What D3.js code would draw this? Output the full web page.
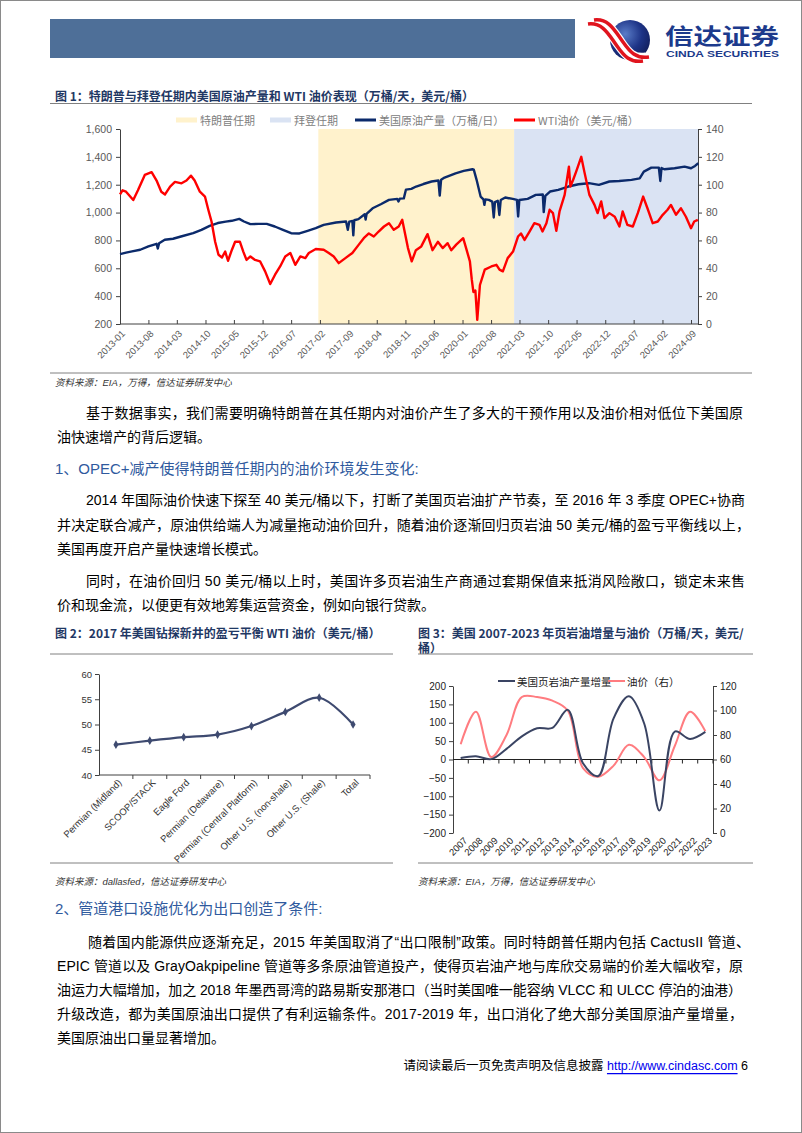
<!DOCTYPE html>
<html><head><meta charset="utf-8">
<script src="https://cdn.jsdelivr.net/npm/d3@7/dist/d3.min.js"></script>
<style>body{margin:0;background:#fff}svg{display:block}</style>
</head><body><svg id="page" width="802" height="1133"></svg>
<script>
// ================= DATA =================
// Chart 1: US crude production (万桶/日) and WTI (美元/桶)
const prodData = [["2013-01-01",702],["2013-02-15",712],["2013-04-01",721],["2013-06-01",733],["2013-08-01",757],["2013-10-01",776],["2013-10-10",742],["2013-10-20",780],["2013-12-01",805],["2014-02-01",812],["2014-04-01",828],["2014-07-01",852],["2014-09-01",876],["2014-11-01",905],["2015-01-01",925],["2015-03-01",935],["2015-04-15",941],["2015-06-10",955],["2015-07-15",936],["2015-09-01",917],["2015-11-01",919],["2016-01-01",919],["2016-03-01",900],["2016-05-01",876],["2016-07-01",852],["2016-09-01",850],["2016-11-01",869],["2017-01-01",888],["2017-03-01",912],["2017-06-01",929],["2017-08-15",936],["2017-08-28",876],["2017-09-08",935],["2017-10-01",940],["2017-10-08",836],["2017-10-15",945],["2017-11-15",953],["2018-01-01",988],["2018-01-08",950],["2018-01-15",990],["2018-03-01",1031],["2018-05-01",1060],["2018-07-01",1091],["2018-09-01",1098],["2018-09-10",1080],["2018-09-20",1100],["2018-10-20",1102],["2018-11-05",1165],["2018-12-15",1170],["2019-01-20",1187],["2019-03-15",1205],["2019-05-15",1223],["2019-07-05",1230],["2019-07-15",1122],["2019-07-25",1235],["2019-08-20",1251],["2019-11-10",1282],["2020-01-10",1299],["2020-03-15",1311],["2020-03-25",1308],["2020-04-15",1235],["2020-05-15",1115],["2020-06-05",1095],["2020-06-12",1055],["2020-06-20",1095],["2020-07-15",1091],["2020-08-10",1079],["2020-08-21",965],["2020-08-30",1075],["2020-09-20",1085],["2020-10-02",983],["2020-10-12",1090],["2020-11-15",1108],["2021-01-10",1098],["2021-02-10",1091],["2021-02-19",972],["2021-02-28",1090],["2021-05-01",1098],["2021-07-01",1127],["2021-08-22",1130],["2021-08-29",1003],["2021-09-10",1120],["2021-10-15",1151],["2021-12-15",1163],["2022-03-01",1187],["2022-05-15",1203],["2022-08-01",1211],["2022-10-15",1199],["2023-01-01",1223],["2023-03-15",1227],["2023-06-15",1235],["2023-08-15",1246],["2023-09-15",1294],["2023-11-10",1323],["2024-01-05",1323],["2024-01-16",1227],["2024-01-25",1320],["2024-02-15",1311],["2024-05-01",1318],["2024-07-15",1330],["2024-09-01",1318],["2024-10-01",1335],["2024-10-25",1354]];
const wtiData = [["2013-01-01",93],["2013-01-20",96],["2013-02-15",95],["2013-04-10",89],["2013-05-15",96],["2013-07-05",107],["2013-08-25",109],["2013-10-01",103],["2013-11-05",95],["2013-12-03",93],["2014-01-10",98.7],["2014-02-15",102],["2014-04-05",101],["2014-05-12",103],["2014-06-15",106.5],["2014-07-12",103],["2014-08-20",95],["2014-09-27",91.5],["2014-10-22",82],["2014-11-15",73.6],["2014-12-12",59],["2015-01-06",49.7],["2015-02-01",47.8],["2015-02-25",52],["2015-03-18",45.4],["2015-04-15",53],["2015-05-10",59],["2015-06-15",59],["2015-07-10",52],["2015-08-03",46],["2015-09-01",48.5],["2015-10-06",46],["2015-11-12",45],["2015-12-20",37.8],["2016-01-27",28.7],["2016-03-03",35.4],["2016-04-10",41.3],["2016-05-18",48.5],["2016-06-25",51],["2016-08-01",42.5],["2016-09-08",48.5],["2016-10-15",47.3],["2016-11-10",51],["2017-01-01",53.8],["2017-03-01",53.3],["2017-04-08",51],["2017-05-15",48.5],["2017-06-21",43.7],["2017-08-10",47.3],["2017-10-01",51],["2017-11-18",57],["2017-12-25",61.6],["2018-02-01",65],["2018-03-10",62.8],["2018-04-15",66.4],["2018-05-25",70],["2018-07-01",72.4],["2018-08-06",67.6],["2018-09-12",70],["2018-10-08",74.8],["2018-11-20",54.5],["2018-12-18",45],["2019-01-18",53],["2019-02-27",55.7],["2019-04-15",64.5],["2019-05-22",53],["2019-07-01",59],["2019-08-06",54.5],["2019-09-12",58],["2019-10-09",53],["2019-11-15",57],["2020-01-06",61.6],["2020-02-01",53],["2020-02-25",45],["2020-03-10",32],["2020-03-22",23],["2020-04-06",24],["2020-04-20",3],["2020-05-10",28],["2020-06-15",39],["2020-08-03",41.3],["2020-09-10",42.5],["2020-10-03",39],["2020-10-28",37.8],["2020-12-03",47.3],["2021-01-12",52],["2021-02-18",62.8],["2021-03-12",65],["2021-04-08",60.4],["2021-05-15",66.4],["2021-06-20",72.4],["2021-07-28",71.2],["2021-08-20",66.4],["2021-09-18",72.4],["2021-10-12",82],["2021-11-06",79.6],["2021-12-01",66.9],["2021-12-25",80.8],["2022-02-01",92.7],["2022-03-05",113],["2022-03-16",98.7],["2022-04-05",103.4],["2022-04-28",109.4],["2022-06-05",120],["2022-06-28",109.4],["2022-08-05",92.7],["2022-09-12",85.5],["2022-10-05",79.6],["2022-11-01",88],["2022-11-25",76],["2023-01-01",79.6],["2023-02-10",77],["2023-03-17",70],["2023-04-10",80.8],["2023-05-15",71.2],["2023-06-25",70],["2023-08-01",79.6],["2023-09-10",91.5],["2023-10-12",83.1],["2023-11-20",72.4],["2023-12-28",73.6],["2024-02-03",78.4],["2024-03-10",82],["2024-04-04",85.5],["2024-05-12",78.4],["2024-06-18",83.1],["2024-07-25",77],["2024-09-01",68.8],["2024-09-25",73.6],["2024-10-22",74.8]];
const trumpTerm = ["2017-01-20","2021-01-20"];
const bidenStart = "2021-01-20";
const c1LeftTicks = [200,400,600,800,1000,1200,1400,1600];
const c1RightTicks = [0,20,40,60,80,100,120,140];
const c1XTickLabels = ["2013-01","2013-08","2014-03","2014-10","2015-05","2015-12","2016-07","2017-02","2017-09","2018-04","2018-11","2019-06","2020-01","2020-08","2021-03","2021-10","2022-05","2022-12","2023-07","2024-02","2024-09"];
const c1Legend = ["特朗普任期","拜登任期","美国原油产量（万桶/日）","WTI油价（美元/桶）"];

// Chart 2: 2017 breakeven WTI
const breakevenCats = ["Permian (Midland)","SCOOP/STACK","Eagle Ford","Permian (Delaware)","Permian (Central Platform)","Other U.S. (non-shale)","Other U.S. (Shale)","Total"];
const breakevenVals = [46,46.8,47.5,48,49.7,52.5,55.3,50];
const c2Ticks = [40,45,50,55,60];

// Chart 3: shale increment & oil price
const shaleYears = ["2007","2008","2009","2010","2011","2012","2013","2014","2015","2016","2017","2018","2019","2020","2021","2022","2023"];
const shaleIncrement = [4,9,1,29,63,85,86,135,-10,-45,112,172,98,-139,76,56,75];
const oilPrice = [72.5,99,62,80,111,111,108,100,53,46,55,72,62,43,71,99,83];
const c3LeftTicks = [-200,-150,-100,-50,0,50,100,150,200];
const c3RightTicks = [0,20,40,60,80,100,120];
const c3Legend = ["美国页岩油产量增量","油价（右）"];

// Text
const c1Title = "图 1：特朗普与拜登任期内美国原油产量和 WTI 油价表现（万桶/天，美元/桶）";
const c2Title = "图 2：2017 年美国钻探新井的盈亏平衡 WTI 油价（美元/桶）";
const c3Title = ["图 3：美国 2007-2023 年页岩油增量与油价（万桶/天，美元/","桶）"];
const src1 = "资料来源：EIA，万得，信达证券研发中心";
const src2 = "资料来源：dallasfed，信达证券研发中心";
const src3 = "资料来源：EIA，万得，信达证券研发中心";
const para1 = ["基于数据事实，我们需要明确特朗普在其任期内对油价产生了多大的干预作用以及油价相对低位下美国原","油快速增产的背后逻辑。"];
const head1 = "1、OPEC+减产使得特朗普任期内的油价环境发生变化:";
const para2 = ["2014 年国际油价快速下探至 40 美元/桶以下，打断了美国页岩油扩产节奏，至 2016 年 3 季度 OPEC+协商","并决定联合减产，原油供给端人为减量拖动油价回升，随着油价逐渐回归页岩油  50 美元/桶的盈亏平衡线以上，","美国再度开启产量快速增长模式。"];
const para3 = ["同时，在油价回归  50 美元/桶以上时，美国许多页岩油生产商通过套期保值来抵消风险敞口，锁定未来售","价和现金流，以便更有效地筹集运营资金，例如向银行贷款。"];
const head2 = "2、管道港口设施优化为出口创造了条件:";
const para4 = ["随着国内能源供应逐渐充足，2015 年美国取消了“出口限制”政策。同时特朗普任期内包括 CactusII 管道、","EPIC 管道以及 GrayOakpipeline 管道等多条原油管道投产，使得页岩油产地与库欣交易端的价差大幅收窄，原","油运力大幅增加，加之 2018 年墨西哥湾的路易斯安那港口（当时美国唯一能容纳 VLCC 和 ULCC 停泊的油港）","升级改造，都为美国原油出口提供了有利运输条件。2017-2019 年，出口消化了绝大部分美国原油产量增量，","美国原油出口量显著增加。"];

// ================= DRAW =================
const FONT = "'Liberation Sans', Arial, 'Noto Sans CJK SC', sans-serif";
const svg = d3.select("#page").style("font-family", FONT);
const defs = svg.append("defs");
svg.append("rect").attr("x",0.5).attr("y",0.5).attr("width",801).attr("height",1132).attr("fill","#fff").attr("stroke","#8a8a8a");

// Header
svg.append("rect").attr("x",50).attr("y",19).attr("width",525).attr("height",39).attr("fill","#4E6F98");
const rg = defs.append("radialGradient").attr("id","lg").attr("cx","38%").attr("cy","35%").attr("r","70%");
rg.append("stop").attr("offset","0%").attr("stop-color","#5a7cc8");
rg.append("stop").attr("offset","60%").attr("stop-color","#1d3386");
rg.append("stop").attr("offset","100%").attr("stop-color","#121f5c");
svg.append("circle").attr("cx",630).attr("cy",40).attr("r",20).attr("fill","url(#lg)");
const sw = "M591,22 C606,20 612,33 620,44 C627,54 633,61 646,59";
svg.append("path").attr("d",sw).attr("fill","none").attr("stroke","#fff").attr("stroke-width",13);
svg.append("path").attr("d",sw).attr("fill","none").attr("stroke","#e0141e").attr("stroke-width",3.5).attr("transform","translate(-3,2)");
svg.append("path").attr("d",sw).attr("fill","none").attr("stroke","#e0141e").attr("stroke-width",3.5).attr("transform","translate(3,-2)");
svg.append("text").attr("x",665).attr("y",34).attr("dominant-baseline","central").attr("font-size",22).attr("font-weight","bold").attr("fill","#1c3a8c")
  .attr("font-family","'Noto Sans CJK SC', sans-serif").attr("textLength",114).attr("lengthAdjust","spacingAndGlyphs").text("信达证券");
svg.append("text").attr("x",666).attr("y",53.5).attr("dominant-baseline","central").attr("font-size",8.5).attr("font-weight","bold").attr("fill","#1c3a8c")
  .attr("textLength",113).attr("lengthAdjust","spacingAndGlyphs").text("CINDA SECURITIES");

// helpers
function hline(x1,x2,y,color){svg.append("line").attr("x1",x1).attr("x2",x2).attr("y1",y).attr("y2",y).attr("stroke",color||"#808080").attr("stroke-width",1);}
function title(txt,x,y){svg.append("text").attr("x",x).attr("y",y).attr("dominant-baseline","central").attr("font-size",12).attr("font-weight","bold").attr("fill","#1F3864").attr("font-family","'Noto Sans CJK SC', 'Liberation Sans', sans-serif").text(txt);}
function source(txt,x,y){svg.append("text").attr("x",x).attr("y",y).attr("dominant-baseline","central").attr("font-size",9.5).attr("font-style","italic").attr("fill","#333").text(txt);}
function line(txt,x,y,len,opts){const t=svg.append("text").attr("x",x).attr("y",y).attr("dominant-baseline","central").attr("font-size",(opts&&opts.size)||14).attr("fill",(opts&&opts.color)||"#000").text(txt);
  if(opts&&opts.weight) t.attr("font-weight",opts.weight);
  if(len) t.attr("textLength",len).attr("lengthAdjust","spacing"); return t;}

// ---------- Chart 1 ----------
title(c1Title,55,95);
hline(50,752,103.5);
const parse = d3.timeParse("%Y-%m-%d");
const pm = d3.timeParse("%Y-%m");
const L1=120, R1=698, T1=129, B1=324;
const x1 = d3.scaleTime().domain([pm(c1XTickLabels[0]), pm(c1XTickLabels[c1XTickLabels.length-1])]).range([120,691]);
const yL1 = d3.scaleLinear().domain([200,1600]).range([B1,T1]);
const yR1 = d3.scaleLinear().domain([0,140]).range([B1,T1]);
const g1 = svg.append("g");
g1.append("rect").attr("x",x1(parse(trumpTerm[0]))).attr("y",T1).attr("width",x1(parse(trumpTerm[1]))-x1(parse(trumpTerm[0]))).attr("height",B1-T1).attr("fill","#FFF2CC");
g1.append("rect").attr("x",x1(parse(bidenStart))).attr("y",T1).attr("width",R1-x1(parse(bidenStart))).attr("height",B1-T1).attr("fill","#DAE3F3");

function styleAxis(g,size,color){g.selectAll("text").attr("font-size",size).attr("fill",color||"#595959").attr("font-family","'Liberation Sans Narrow','Liberation Sans',Arial,sans-serif");
  g.selectAll("line").attr("stroke","#404040"); g.select(".domain").attr("stroke","#404040");}
const axL1 = g1.append("g").attr("transform",`translate(${L1},0)`).call(d3.axisLeft(yL1).tickValues(c1LeftTicks).tickFormat(d3.format(",")).tickSize(4).tickSizeOuter(0).tickPadding(4));
styleAxis(axL1,10.5);
const axR1 = g1.append("g").attr("transform",`translate(${R1},0)`).call(d3.axisRight(yR1).tickValues(c1RightTicks).tickSize(4).tickSizeOuter(0).tickPadding(4));
styleAxis(axR1,10.5);
const axB1 = g1.append("g").attr("transform",`translate(0,${B1})`).call(d3.axisBottom(x1).tickValues(c1XTickLabels.map(pm)).tickFormat(d3.timeFormat("%Y-%m")).tickSize(-4).tickSizeOuter(0));
axB1.select(".domain").remove();
styleAxis(axB1,9.5);
axB1.selectAll("text").attr("x",0).attr("y",0).attr("dy","0.35em").attr("transform","translate(3,8) rotate(-45)").style("text-anchor","end");
g1.append("line").attr("x1",L1).attr("x2",R1).attr("y1",B1).attr("y2",B1).attr("stroke","#404040");

const prod = prodData.map(d=>({d:parse(d[0]),v:d[1]}));
const wti = wtiData.map(d=>({d:parse(d[0]),v:d[1]}));
g1.append("path").datum(prod).attr("fill","none").attr("stroke","#0B2A6B").attr("stroke-width",2.4).attr("stroke-linejoin","round")
  .attr("d",d3.line().x(d=>x1(d.d)).y(d=>yL1(d.v)));
g1.append("path").datum(wti).attr("fill","none").attr("stroke","#FF0000").attr("stroke-width",2.4).attr("stroke-linejoin","round")
  .attr("d",d3.line().x(d=>x1(d.d)).y(d=>yR1(d.v)));

// legend 1
const lg1 = svg.append("g").attr("font-family","'Noto Sans CJK SC', 'Liberation Sans', sans-serif").attr("font-size",11).attr("fill","#808080");
const legItems = [{x:176,c:"#FFF2CC",w:5},{x:270,c:"#DAE3F3",w:5},{x:355,c:"#0B2A6B",w:3},{x:514,c:"#FF0000",w:3}];
legItems.forEach((it,i)=>{lg1.append("rect").attr("x",it.x).attr("y",120-it.w/2).attr("width",21).attr("height",it.w).attr("fill",it.c);
  lg1.append("text").attr("x",it.x+24).attr("y",120).attr("dominant-baseline","central").text(c1Legend[i]);});

hline(50,752,373);
source(src1,55,382);

// ---------- Paragraphs ----------
line(para1[0],86,413,657);
line(para1[1],57,437);
line(head1,55,468,null,{size:15,color:"#2F5A9E"});
line(para2[0],86,500,659);
line(para2[1],57,525,693);
line(para2[2],57,549);
line(para3[0],86,581,659);
line(para3[1],57,605);

// ---------- Chart 2 ----------
title(c2Title,55,632);
hline(50,393,654);
const x2 = d3.scaleBand().domain(breakevenCats).range([99,370]);
const y2 = d3.scaleLinear().domain([40,60]).range([775,674]);
const g2 = svg.append("g");
const axL2 = g2.append("g").attr("transform","translate(99,0)").call(d3.axisLeft(y2).tickValues(c2Ticks).tickSize(4).tickSizeOuter(0).tickPadding(3));
styleAxis(axL2,9.5,"#333");
g2.append("line").attr("x1",99).attr("x2",370).attr("y1",775).attr("y2",775).attr("stroke","#404040");
breakevenCats.forEach(c=>{g2.append("line").attr("x1",x2(c)+x2.bandwidth()).attr("x2",x2(c)+x2.bandwidth()).attr("y1",775).attr("y2",779).attr("stroke","#404040");});
breakevenCats.forEach(c=>{g2.append("text").attr("transform",`translate(${x2(c)+x2.bandwidth()/2+4},${781}) rotate(-45)`).attr("text-anchor","end").attr("dy","0.35em").attr("font-size",9.5).attr("fill","#333").text(c);});
const pts2 = breakevenCats.map((c,i)=>({x:x2(c)+x2.bandwidth()/2,y:y2(breakevenVals[i])}));
g2.append("path").datum(pts2).attr("fill","none").attr("stroke","#3E4A70").attr("stroke-width",2.2)
  .attr("d",d3.line().x(d=>d.x).y(d=>d.y).curve(d3.curveCatmullRom.alpha(0.5)));
g2.selectAll(".m").data(pts2).join("path").attr("transform",d=>`translate(${d.x},${d.y})`).attr("d",d3.symbol(d3.symbolDiamond).size(22)).attr("fill","#3E4A70");
hline(50,393,863);
source(src2,55,881);

// ---------- Chart 3 ----------
title(c3Title[0],418,632);
title(c3Title[1],418,647);
hline(418,753,654);
const x3 = d3.scaleBand().domain(shaleYears).range([453,713]);
const yL3 = d3.scaleLinear().domain([-200,200]).range([833,686]);
const yR3 = d3.scaleLinear().domain([0,120]).range([833,686]);
const g3 = svg.append("g");
const axL3 = g3.append("g").attr("transform","translate(453,0)").call(d3.axisLeft(yL3).tickValues(c3LeftTicks).tickSize(4).tickSizeOuter(0).tickPadding(3));
styleAxis(axL3,10,"#222");
const axR3 = g3.append("g").attr("transform","translate(713,0)").call(d3.axisRight(yR3).tickValues(c3RightTicks).tickSize(4).tickSizeOuter(0).tickPadding(3));
styleAxis(axR3,10,"#222");
g3.append("line").attr("x1",453).attr("x2",713).attr("y1",yL3(0)).attr("y2",yL3(0)).attr("stroke","#222");
shaleYears.forEach(c=>{g3.append("line").attr("x1",x3(c)+x3.bandwidth()).attr("x2",x3(c)+x3.bandwidth()).attr("y1",yL3(0)).attr("y2",yL3(0)+4).attr("stroke","#222");});
shaleYears.forEach(c=>{g3.append("text").attr("transform",`translate(${x3(c)+x3.bandwidth()/2+5},${839}) rotate(-45)`).attr("text-anchor","end").attr("dy","0.35em").attr("font-size",9.5).attr("fill","#222").text(c);});
const cx3 = c=>x3(c)+x3.bandwidth()/2;
g3.append("path").datum(shaleYears.map((c,i)=>[cx3(c),yR3(oilPrice[i])])).attr("fill","none").attr("stroke","#FF7C80").attr("stroke-width",2)
  .attr("d",d3.line().curve(d3.curveCatmullRom.alpha(0.5)));
g3.append("path").datum(shaleYears.map((c,i)=>[cx3(c),yL3(shaleIncrement[i])])).attr("fill","none").attr("stroke","#3A4463").attr("stroke-width",2)
  .attr("d",d3.line().curve(d3.curveCatmullRom.alpha(0.5)));
const lg3 = svg.append("g").attr("font-family","'Noto Sans CJK SC', 'Liberation Sans', sans-serif").attr("font-size",10.5).attr("fill","#222");
lg3.append("line").attr("x1",498).attr("x2",515).attr("y1",681).attr("y2",681).attr("stroke","#3A4463").attr("stroke-width",2);
lg3.append("text").attr("x",517).attr("y",681).attr("dominant-baseline","central").text(c3Legend[0]);
lg3.append("line").attr("x1",608).attr("x2",625).attr("y1",681).attr("y2",681).attr("stroke","#FF7C80").attr("stroke-width",2);
lg3.append("text").attr("x",627).attr("y",681).attr("dominant-baseline","central").text(c3Legend[1]);
hline(418,753,863);
source(src3,418,881);

// ---------- Section 2 ----------
line(head2,55,908,null,{size:15,color:"#2F5A9E"});
line(para4[0],88,942,662);
line(para4[1],57,966,686);
line(para4[2],57,990,685);
line(para4[3],57,1014,686);
line(para4[4],57,1038);

// footer
const ft = svg.append("text").attr("x",748).attr("y",1066).attr("text-anchor","end").attr("dominant-baseline","central").attr("font-size",12.5).attr("fill","#000");
ft.append("tspan").text("请阅读最后一页免责声明及信息披露 ");
ft.append("tspan").attr("fill","#0000EE").attr("text-decoration","underline").text("http://www.cindasc.com");
ft.append("tspan").text(" 6");
</script></body></html>
